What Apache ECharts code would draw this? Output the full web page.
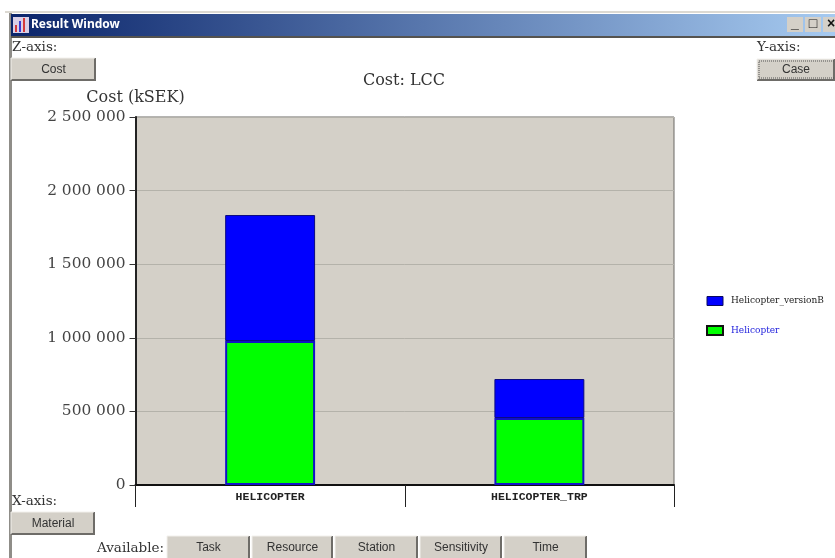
<!DOCTYPE html>
<html><head><meta charset="utf-8">
<style>html,body{margin:0;padding:0;background:#fff}#c{width:835px;height:558px}</style>
<script src="https://cdn.jsdelivr.net/npm/echarts@6/dist/echarts.min.js"></script>
</head><body><div id="c"></div>
<script>
const categories = ['HELICOPTER', 'HELICOPTER_TRP'];
const helicopter = [978000, 455000];
const helicopterVersionB = [856000, 265000];
const yTicks = {min: 0, max: 2500000, interval: 500000};
const availableButtons = [['Task',167,83],['Resource',252,81],['Station',335,83],['Sensitivity',420,82],['Time',504,83]];

const serif = '"DejaVu Serif","Liberation Serif",serif';
const sans = '"Liberation Sans",Arial,sans-serif';

function button(label, x, y, w, h, dotted) {
  const els = [
    {type:'rect', shape:{x, y, width:w, height:h}, style:{fill:'#d4d0c8'}},
    {type:'polyline', shape:{points:[[x+w-1,y],[x+w-1,y+h-1],[x,y+h-1]]}, style:{fill:null, stroke:'#6e6c68', lineWidth:2}},
    {type:'polyline', shape:{points:[[x,y+h-1],[x,y],[x+w-1,y]]}, style:{fill:null, stroke:'#f2f0ec', lineWidth:1}},
    {type:'text', x:x+w/2, y:y+h/2, style:{text:label, font:'12px '+sans, fill:'#333', align:'center', verticalAlign:'middle'}}
  ];
  if (dotted) els.push({type:'rect', shape:{x:x+2, y:y+2, width:w, height:h-5}, style:{fill:null, stroke:'#555', lineWidth:1, lineDash:[1,1]}});
  return els;
}
function label(text, x, y) {
  return {type:'text', x, y, style:{text, font:'13.5px '+serif, fill:'#333', verticalAlign:'middle'}};
}

const chrome = [
  {type:'rect', shape:{x:5, y:11, width:830, height:2}, style:{fill:'#dcd9d2'}},
  {type:'rect', shape:{x:9, y:13, width:3, height:545}, style:{fill:'#8f8d88'}},
  {type:'rect', shape:{x:11, y:14, width:824, height:22},
    style:{fill:new echarts.graphic.LinearGradient(0,0,1,0,[{offset:0,color:'#0a246a'},{offset:1,color:'#a6caf0'}])}},
  {type:'rect', shape:{x:11, y:36, width:824, height:2}, style:{fill:'#55534f'}},
  {type:'rect', shape:{x:13, y:17, width:16, height:16}, style:{fill:'#d9cfe6'}},
  {type:'rect', shape:{x:15, y:25, width:2, height:7}, style:{fill:'#d43a3a'}},
  {type:'rect', shape:{x:19, y:21, width:2, height:11}, style:{fill:'#3a3ad4'}},
  {type:'rect', shape:{x:23, y:18, width:2, height:14}, style:{fill:'#d43a3a'}},
  {type:'text', x:31, y:25, style:{text:'Result Window', font:'bold 12px "Noto Sans",sans-serif', fill:'#fff', verticalAlign:'middle'}},
  ...[[787,'_'],[805,'□'],[823,'×']].flatMap(([x,t]) => [
    {type:'rect', shape:{x, y:17, width:16, height:15}, style:{fill:'#d4d0c8'}},
    {type:'text', x:x+8, y:24, style:{text:t, font:'bold 14px '+sans, fill:'#111', align:'center', verticalAlign:'middle'}}
  ]),
  label('Z-axis:', 12, 47), label('Y-axis:', 757, 47), label('X-axis:', 12, 501), label('Available:', 97, 548),
  ...button('Cost', 11, 58, 85, 23),
  ...button('Case', 757, 59, 78, 22, true),
  ...button('Material', 11, 512, 84, 23),
  ...availableButtons.flatMap(([t,x,w]) => button(t, x, 536, w, 24))
];

const chart = echarts.init(document.getElementById('c'), null, {renderer:'canvas'});
chart.setOption({
  animation:false,
  backgroundColor:'#fff',
  title:{text:'Cost: LCC', left:399, top:68, textAlign:'center',
    textStyle:{fontFamily:serif, fontWeight:'normal', fontSize:16, color:'#333'}},
  legend:{
    orient:'vertical', left:701, top:291, itemWidth:16, itemHeight:9, itemGap:19,
    selectedMode:false, icon:'rect',
    textStyle:{fontFamily:serif, fontSize:9, padding:[0,0,0,3]},
    data:[
      {name:'Helicopter_versionB', textStyle:{color:'#222'}, itemStyle:{borderColor:'#0a0a60', borderWidth:1}},
      {name:'Helicopter', textStyle:{color:'#2222dd'}, itemStyle:{borderColor:'#111', borderWidth:2}}
    ]
  },
  grid:{left:135.5, top:117, width:538.5, height:368, show:true, backgroundColor:'#d4d0c8', borderColor:'#6b6965', borderWidth:1},
  xAxis:{
    type:'category', data:categories,
    axisLine:{lineStyle:{color:'#111', width:2}},
    axisTick:{show:true, length:22, lineStyle:{color:'#222', width:1}},
    axisLabel:{margin:6, fontFamily:'"Liberation Mono","DejaVu Sans Mono",monospace', fontWeight:'bold', fontSize:11.5, color:'#222'},
    splitLine:{show:false}
  },
  yAxis:{
    type:'value', min:yTicks.min, max:yTicks.max, interval:yTicks.interval,
    name:'Cost (kSEK)', nameLocation:'end', nameGap:11,
    nameTextStyle:{fontFamily:serif, fontSize:16, color:'#333', align:'center', padding:[0,0,0,0]},
    axisLine:{show:true, lineStyle:{color:'#222', width:2}},
    axisTick:{show:true, length:6, lineStyle:{color:'#333'}},
    axisLabel:{margin:10, fontFamily:serif, fontSize:15.4, color:'#444', padding:[5,0,0,0],
      formatter:v => String(v).replace(/\B(?=(\d{3})+$)/g,' ')},
    splitLine:{show:true, lineStyle:{color:'#b4b2aa', width:1}}
  },
  series:[
    {name:'Helicopter', type:'bar', stack:'total', data:helicopter, barWidth:'33.4%',
      itemStyle:{color:'#00ff00', borderColor:'#1212c8', borderWidth:2}},
    {name:'Helicopter_versionB', type:'bar', stack:'total', data:helicopterVersionB, barWidth:'33.4%',
      itemStyle:{color:'#0000ff', borderColor:'#0a0a80', borderWidth:1}}
  ],
  graphic:{elements:chrome}
});
</script></body></html>
